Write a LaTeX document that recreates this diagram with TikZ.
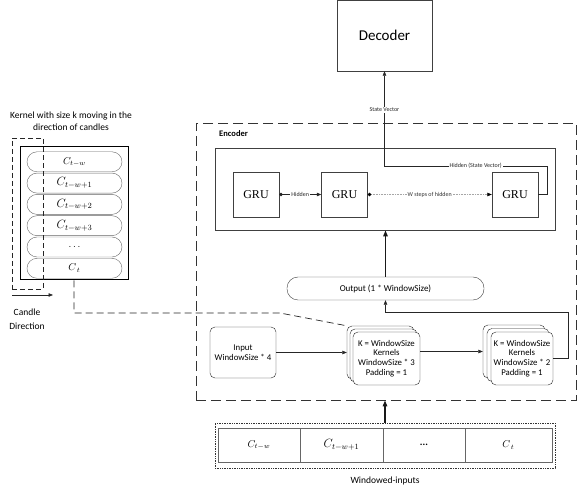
\documentclass[tikz,border=0pt]{standalone}
\usepackage{fontspec}
\setmainfont{Carlito}
\newfontfamily\grufont{Liberation Serif}
\usetikzlibrary{arrows.meta,positioning,calc}
\tikzstyle{box} = [rectangle, draw=black!75, text centered, inner sep=1pt]
\tikzstyle{gru} = [box, minimum width=46pt, minimum height=45pt, font=\grufont\fontsize{12}{13}\selectfont]
\tikzstyle{layer} = [rectangle, draw=black!85, rounded corners=5pt, fill=white, align=center, minimum width=67pt, minimum height=53pt, inner sep=1pt, font=\fontsize{8.8}{9.8}\selectfont]
\tikzstyle{candle} = [rectangle, draw=black!60, rounded corners=10pt, minimum width=95pt, minimum height=20pt, inner sep=1pt]
\tikzstyle{cell} = [rectangle, draw=black!60, minimum height=34pt, inner sep=1pt]
\tikzstyle{connector} = [line width=0.6pt, black!85, -{Triangle[length=4.5pt,width=3.5pt]}]
\tikzstyle{thick connector} = [line width=1.3pt, black!90, -{Triangle[length=6pt,width=4.5pt]}]
\tikzstyle{tag} = [fill=white, inner sep=1pt, font=\fontsize{6}{7}\selectfont]
\begin{document}
\begin{tikzpicture}[x=1pt, y=-1pt]
        \useasboundingbox (0,0) rectangle (579,494);
        % decoder and encoder
        \node (decoder) [box, minimum width=95pt, minimum height=71pt, font=\fontsize{15}{17}\selectfont] at (384.5,35.5) {Decoder};
        \node (encoder) [rectangle, draw=black!80, dash pattern=on 10pt off 5pt, line width=0.8pt, minimum width=380pt, minimum height=277pt] at (386,261.5) {};
        \node (enc-label) [anchor=west, inner sep=0pt, font=\bfseries\fontsize{8.5}{9}\selectfont] at (219,134) {Encoder};
        \node (grubox) [box, line width=0.8pt, minimum width=340pt, minimum height=82pt] at (385,189) {};
        \node (gru1) [gru] at (256,194.5) {GRU};
        \node (gru2) [gru] at (344.5,194.5) {GRU};
        \node (gru3) [gru] at (515,194.5) {GRU};
        \node (output) [rectangle, draw=black!75, rounded corners=11pt, minimum width=197pt, minimum height=23pt, font=\fontsize{9}{10}\selectfont] at (385.5,288.5) {Output (1 * WindowSize)};
        \node (input) [layer, minimum width=66pt, minimum height=51pt] at (243,352.5) {Input\\WindowSize * 4};
        \node (conv1c) [layer] at (380.5,352.5) {};
        \node (conv1b) [layer] at (383.5,355.5) {};
        \node (conv1) [layer] at (386.5,358.5) {K = WindowSize\\Kernels\\WindowSize * 3\\Padding = 1};
        \node (conv2c) [layer, minimum width=62pt] at (514,351.5) {};
        \node (conv2b) [layer, minimum width=62pt] at (518,355) {};
        \node (conv2) [layer, minimum width=62pt] at (522,358.5) {K = WindowSize\\Kernels\\WindowSize * 2\\Padding = 1};
        \coordinate (sv-turn) at (384.5,166);
        \coordinate (out-turn) at (385.5,312);
        \draw [connector, {Circle[length=3.5pt]}-{Triangle[length=4.5pt,width=3.5pt]}] (gru1.east) -- node[tag] {Hidden} (gru2.west);
        \draw [connector, black!35, densely dotted, {Circle[length=3.5pt,color=black]}-{Triangle[length=4.5pt,width=3.5pt,color=black]}] (gru2.east) -- node[tag, text=black!80] {W steps of hidden} (gru3.west);
        \draw [connector] (gru3.east) -- ++(9,0) |- node[tag, pos=0.72] {Hidden (State Vector)} (sv-turn) -- node[tag, pos=0.59] {State Vector} (decoder.south);
        \draw [thick connector] (output.north) -- (output.north |- grubox.south);
        \draw [connector] (input.east) -- (conv1c.west);
        \draw [connector] (conv1.east |- conv2c.west) -- (conv2c.west);
        \draw [connector] (conv2.east) -- ++(15,0) |- (out-turn) -- (output.south);
        % windowed inputs
        \node (windowed) [rectangle, draw=black!80, densely dotted, line width=0.7pt, minimum width=340pt, minimum height=45pt] at (385,445.5) {};
        \node (win1) [cell, minimum width=82pt] at (259,445) {$C_{t-w}$};
        \node (win2) [cell, minimum width=83pt] at (341.5,445) {\large$C_{t-w+1}$};
        \node (win3) [cell, minimum width=82pt] at (424,445) {\textbf{...}};
        \node (win4) [cell, minimum width=87pt] at (508.5,445) {$C_{\,t}$};
        \node (win-label) [font=\fontsize{9.5}{10}\selectfont] at (385,481) {Windowed-inputs};
        \draw [thick connector] (windowed.north) -- (windowed.north |- encoder.south);
        % candles and kernel
        \node (kernel-title) [align=center, font=\fontsize{9.5}{12.5}\selectfont] at (71,121) {Kernel with size k moving in the\\direction of candles};
        \node (candles) [rectangle, draw, line width=1pt, minimum width=108pt, minimum height=133pt] at (74,213.5) {};
        \foreach \lbl [count=\i] in {$C_{t-w}$, \large$C_{t-w+1}$, \large$C_{t-w+2}$, \large$C_{t-w+3}$, $\dots$, $C_{\,t}$}
            \node (candle-\i) [candle] at (74.5,140.5+21.3*\i) {\lbl};
        \node (kernel) [rectangle, draw=black!85, dash pattern=on 5pt off 3pt, line width=0.8pt, minimum width=31pt, minimum height=151pt] at (27.5,213.5) {};
        \coordinate (dir-start) at (12,295);
        \coordinate (dir-end) at (53,295);
        \draw [connector] (dir-start) -- (dir-end);
        \node (dir-label) [align=center, font=\fontsize{9.5}{13.5}\selectfont] at (27,319) {Candle\\Direction};
        \coordinate (kink) at (280,313);
        \draw [black!85, line width=0.7pt, dash pattern=on 7pt off 4pt] (candles.south) |- (kink) -- (conv1c.north west);
    \end{tikzpicture}
\end{document}
